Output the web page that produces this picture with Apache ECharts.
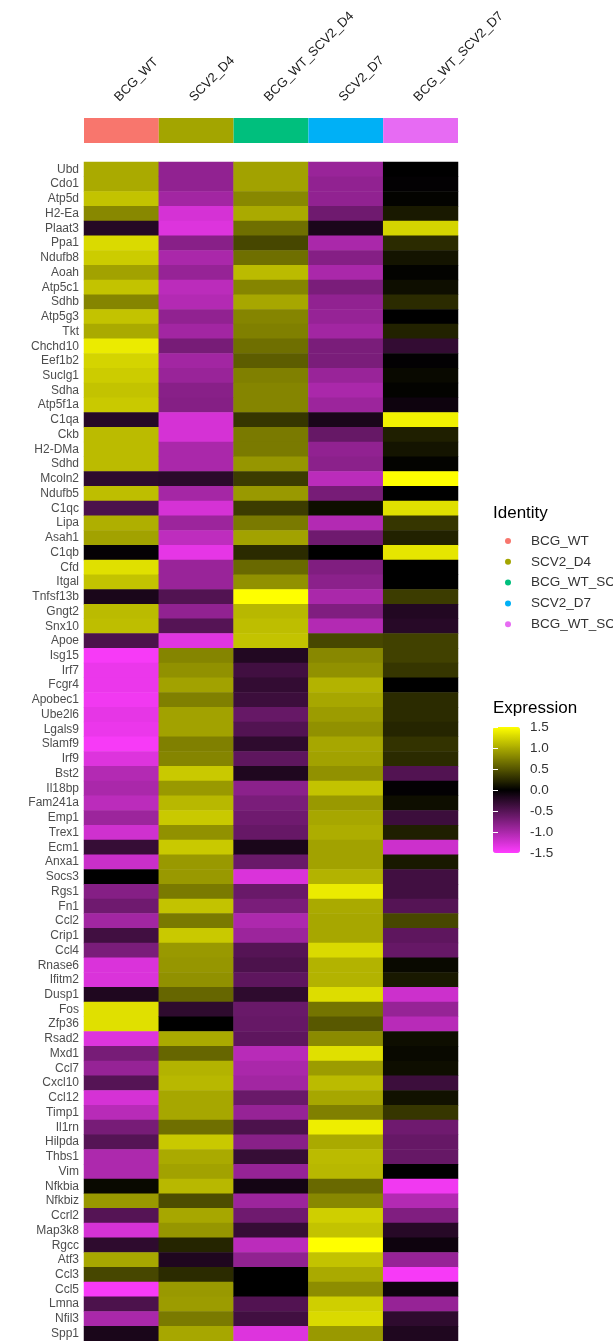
<!DOCTYPE html>
<html>
<head>
<meta charset="utf-8">
<script src="https://cdn.jsdelivr.net/npm/echarts@6/dist/echarts.min.js"></script>
<style>
  html, body { margin: 0; padding: 0; background: #ffffff; }
  #chart { width: 613px; height: 1341px; }
</style>
</head>
<body>
<div id="chart"></div>
<script>
// Sample groups (columns) and their annotation colours
const groups = ['BCG_WT', 'SCV2_D4', 'BCG_WT_SCV2_D4', 'SCV2_D7', 'BCG_WT_SCV2_D7'];
const groupColors = ['#F8766D', '#A3A500', '#00BF7D', '#00B0F6', '#E76BF3'];

// Genes (rows, top to bottom)
const genes = [
  'Ubd', 'Cdo1', 'Atp5d', 'H2-Ea', 'Plaat3', 'Ppa1', 'Ndufb8', 'Aoah',
  'Atp5c1', 'Sdhb', 'Atp5g3', 'Tkt', 'Chchd10', 'Eef1b2', 'Suclg1', 'Sdha',
  'Atp5f1a', 'C1qa', 'Ckb', 'H2-DMa', 'Sdhd', 'Mcoln2', 'Ndufb5', 'C1qc',
  'Lipa', 'Asah1', 'C1qb', 'Cfd', 'Itgal', 'Tnfsf13b', 'Gngt2', 'Snx10',
  'Apoe', 'Isg15', 'Irf7', 'Fcgr4', 'Apobec1', 'Ube2l6', 'Lgals9', 'Slamf9',
  'Irf9', 'Bst2', 'Il18bp', 'Fam241a', 'Emp1', 'Trex1', 'Ecm1', 'Anxa1',
  'Socs3', 'Rgs1', 'Fn1', 'Ccl2', 'Crip1', 'Ccl4', 'Rnase6', 'Ifitm2',
  'Dusp1', 'Fos', 'Zfp36', 'Rsad2', 'Mxd1', 'Ccl7', 'Cxcl10', 'Ccl12',
  'Timp1', 'Il1rn', 'Hilpda', 'Thbs1', 'Vim', 'Nfkbia', 'Nfkbiz', 'Ccrl2',
  'Map3k8', 'Rgcc', 'Atf3', 'Ccl3', 'Ccl5', 'Lmna', 'Nfil3', 'Spp1'
];

// Scaled expression per group, in gene order
const exprBCG_WT = [
  1.0, 1.0, 1.15, 0.8, -0.22, 1.28, 1.2, 0.95,
  1.15, 0.78, 1.15, 1.0, 1.38, 1.25, 1.2, 1.15,
  1.18, -0.23, 1.1, 1.1, 1.1, -0.27, 1.12, -0.45,
  1.03, 0.95, -0.03, 1.32, 1.15, -0.15, 1.1, 1.12,
  -0.45, -1.45, -1.38, -1.38, -1.42, -1.35, -1.38, -1.45,
  -1.3, -1.05, -1.0, -1.1, -0.92, -1.22, -0.32, -1.18,
  0.0, -0.78, -0.65, -0.95, -0.38, -0.72, -1.28, -1.28,
  -0.18, 1.32, 1.32, -1.3, -0.7, -0.88, -0.5, -1.25,
  -1.08, -0.7, -0.5, -1.02, -1.02, 0.05, 0.9, -0.5,
  -1.25, -0.27, 0.98, 0.42, -1.45, -0.45, -1.0, -0.15
];
const exprSCV2_D4 = [
  -0.85, -0.85, -0.95, -1.25, -1.3, -0.8, -1.0, -0.88,
  -1.1, -1.05, -0.85, -0.95, -0.7, -0.95, -0.9, -0.8,
  -0.78, -1.25, -1.25, -1.0, -1.0, -0.25, -0.97, -1.25,
  -0.92, -1.12, -1.35, -0.9, -0.9, -0.48, -0.85, -0.5,
  -1.32, 0.78, 0.85, 0.95, 0.75, 0.95, 0.95, 0.75,
  0.78, 1.18, 0.9, 1.08, 1.18, 0.85, 1.18, 0.9,
  0.9, 0.72, 1.15, 0.72, 1.18, 0.9, 0.88, 0.85,
  0.6, -0.27, 0.0, 1.0, 0.6, 1.05, 1.08, 0.98,
  0.98, 0.65, 1.18, 1.0, 0.95, 1.08, 0.45, 0.98,
  0.88, 0.22, -0.18, 0.25, 0.9, 0.92, 0.72, 0.98
];
const exprBCG_WT_SCV2_D4 = [
  0.95, 0.95, 0.8, 1.0, 0.65, 0.42, 0.65, 1.1,
  0.78, 0.98, 0.78, 0.75, 0.65, 0.55, 0.75, 0.78,
  0.78, 0.32, 0.72, 0.72, 0.88, 0.35, 0.9, 0.35,
  0.72, 0.95, 0.25, 0.62, 0.85, 1.5, 1.08, 1.12,
  1.15, -0.2, -0.38, -0.3, -0.35, -0.6, -0.48, -0.27,
  -0.55, -0.18, -0.82, -0.72, -0.65, -0.6, -0.15, -0.62,
  -1.28, -0.62, -0.72, -1.02, -0.92, -0.5, -0.45, -0.55,
  -0.27, -0.62, -0.6, -0.55, -1.08, -1.0, -0.95, -0.62,
  -0.88, -0.45, -0.8, -0.32, -0.88, -0.12, -0.92, -0.65,
  -0.32, -1.1, -0.85, 0.0, 0.0, -0.48, -0.38, -1.3
];
const exprSCV2_D7 = [
  -0.9, -0.85, -0.85, -0.65, -0.15, -1.0, -0.78, -1.0,
  -0.72, -0.85, -0.88, -0.95, -0.72, -0.72, -0.9, -1.0,
  -0.92, -0.15, -0.6, -0.85, -0.82, -1.1, -0.7, 0.08,
  -1.05, -0.65, 0.0, -0.75, -0.82, -1.0, -0.75, -1.05,
  0.42, 0.8, 0.85, 1.05, 0.98, 0.92, 0.85, 0.98,
  0.95, 0.85, 1.15, 0.9, 0.98, 1.02, 0.95, 0.95,
  1.05, 1.38, 1.0, 0.98, 0.98, 1.28, 1.05, 1.05,
  1.3, 0.68, 0.52, 0.82, 1.32, 0.92, 1.1, 0.98,
  0.75, 1.4, 1.0, 1.1, 1.08, 0.62, 0.8, 1.22,
  1.15, 1.5, 1.15, 1.0, 0.83, 1.22, 1.28, 0.9
];
const exprBCG_WT_SCV2_D7 = [
  0.0, -0.02, 0.02, 0.15, 1.25, 0.25, 0.12, 0.02,
  0.08, 0.25, 0.0, 0.2, -0.3, -0.02, 0.05, 0.02,
  -0.08, 1.42, 0.18, 0.12, 0.02, 1.5, 0.0, 1.32,
  0.32, 0.2, 1.35, 0.0, 0.0, 0.35, -0.2, -0.23,
  0.38, 0.38, 0.32, 0.0, 0.25, 0.25, 0.22, 0.3,
  0.25, -0.48, -0.02, 0.08, -0.35, 0.18, -1.2, 0.15,
  -0.38, -0.38, -0.5, 0.42, -0.55, -0.6, 0.05, 0.15,
  -1.2, -0.88, -1.08, 0.08, 0.05, 0.08, -0.35, 0.1,
  0.32, -0.65, -0.6, -0.6, 0.0, -1.42, -1.05, -0.75,
  -0.23, -0.08, -0.88, -1.45, -0.08, -0.88, -0.27, -0.18
];

// Colour-bar tick labels, bottom to top
const exprTicks = ['-1.5', '-1.0', '-0.5', '0.0', '0.5', '1.0', '1.5'];

const columns = [exprBCG_WT, exprSCV2_D4, exprBCG_WT_SCV2_D4, exprSCV2_D7, exprBCG_WT_SCV2_D7];
const cells = [];
columns.forEach((col, x) => col.forEach((v, y) => cells.push([x, y, v])));

const FONT = '"Liberation Sans", Arial, Helvetica, sans-serif';

const chart = echarts.init(document.getElementById('chart'), null, { renderer: 'canvas' });

const option = {
  animation: false,
  backgroundColor: '#ffffff',
  textStyle: { fontFamily: FONT },
  title: [
    { text: 'Identity', left: 493, top: 505, padding: 0,
      textStyle: { fontSize: 17, fontWeight: 'normal', color: '#000', fontFamily: FONT } },
    { text: 'Expression', left: 493, top: 700, padding: 0,
      textStyle: { fontSize: 17, fontWeight: 'normal', color: '#000', fontFamily: FONT } }
  ],
  legend: {
    orient: 'vertical', left: 505, top: 534, padding: 0,
    icon: 'circle', itemWidth: 36, itemHeight: 6, itemGap: 6.8,
    selectedMode: false, data: groups,
    textStyle: { fontSize: 13.5, color: '#333', fontFamily: FONT,
                 width: 86, overflow: 'truncate', ellipsis: '' }
  },
  grid: [
    { left: 84, top: 162, width: 374, height: 1179 },
    { left: 84, top: 118, width: 374, height: 25 },
    { left: 493, top: 727, width: 27, height: 126 }
  ],
  xAxis: [
    { gridIndex: 0, type: 'category', data: groups, show: false },
    { gridIndex: 1, type: 'category', data: groups, position: 'top',
      axisLine: { show: false }, axisTick: { show: false },
      axisLabel: { interval: 0, rotate: 45, margin: 14, verticalAlign: 'bottom',
                   fontSize: 13, color: '#1a1a1a', fontFamily: FONT } },
    { gridIndex: 2, type: 'value', show: false }
  ],
  yAxis: [
    { gridIndex: 0, type: 'category', data: genes, inverse: true,
      axisLine: { show: false }, axisTick: { show: false },
      axisLabel: { interval: 0, margin: 5, fontSize: 12, color: '#4D4D4D', fontFamily: FONT } },
    { gridIndex: 1, type: 'value', min: 0, max: 1, show: false },
    { gridIndex: 2, type: 'category', data: exprTicks, boundaryGap: false, position: 'right', z: 10,
      axisLine: { show: false },
      axisTick: { show: true, inside: true, length: 5, interval: 0, lineStyle: { color: '#ffffff' } },
      axisLabel: { interval: 0, margin: 10, fontSize: 13.5, color: '#333', fontFamily: FONT } },
    { gridIndex: 2, type: 'category', data: exprTicks, boundaryGap: false, position: 'left', z: 10,
      axisLine: { show: false },
      axisTick: { show: true, inside: true, length: 5, interval: 0, lineStyle: { color: '#ffffff' } },
      axisLabel: { show: false } }
  ],
  visualMap: {
    type: 'continuous', seriesIndex: 0, min: -1.5, max: 1.5,
    calculable: false, orient: 'vertical', left: 493, top: 727, padding: 0,
    itemWidth: 27, itemHeight: 126, text: null, showLabel: false,
    inRange: { color: ['#FF3CFF', '#000000', '#FFFF00'] }
  },
  series: [
    { type: 'heatmap', xAxisIndex: 0, yAxisIndex: 0, data: cells, progressive: 0 }
  ].concat(groups.map((g, i) => ({
    type: 'bar', name: g, xAxisIndex: 1, yAxisIndex: 1,
    data: groups.map((_, j) => (j === i ? 1 : '-')),
    barWidth: '100%', barGap: '-100%', silent: true,
    itemStyle: { color: groupColors[i] }
  })))
};

chart.setOption(option);
</script>
</body>
</html>
